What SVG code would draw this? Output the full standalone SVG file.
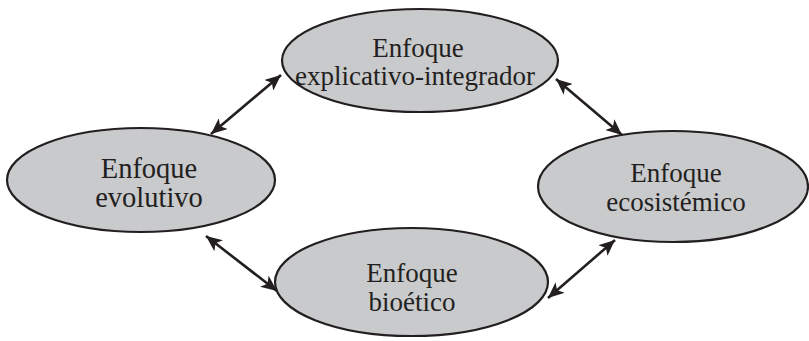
<svg xmlns="http://www.w3.org/2000/svg" width="809" height="341" viewBox="0 0 809 341">
<style>
.node ellipse{fill:#c9cacc;stroke:#231f20;stroke-width:2.2}
.node text{fill:#231f20;text-anchor:middle}
.conn line{stroke:#231f20;stroke-width:2.6;marker-start:url(#ah);marker-end:url(#ah)}
</style>
<defs>
<marker id="ah" markerUnits="userSpaceOnUse" markerWidth="17" markerHeight="14" refX="16" refY="7" orient="auto-start-reverse" viewBox="0 0 17 14">
<path d="M0,0 L16,7 L0,14 L4,7 z" fill="#231f20"/>
</marker>
</defs>
<rect width="809" height="341" fill="#ffffff"/>
<g class="conn">
<line x1="211" y1="134" x2="281" y2="75"/>
<line x1="556" y1="79" x2="622" y2="135"/>
<line x1="206" y1="236" x2="277" y2="291"/>
<line x1="548" y1="298" x2="615" y2="240"/>
</g>
<g font-family="Liberation Serif, Times New Roman, serif" font-size="27">
<g id="n-integrador" class="node">
<ellipse cx="420" cy="60.5" rx="138" ry="51.5"/>
<text x="418" y="56.5">Enfoque</text>
<text x="415" y="85">explicativo-integrador</text>
</g>
<g id="n-evolutivo" class="node">
<ellipse cx="141" cy="180" rx="134" ry="52"/>
<text x="149" y="178" font-size="28.5">Enfoque</text>
<text x="149" y="207" font-size="28.5">evolutivo</text>
</g>
<g id="n-ecosistemico" class="node">
<ellipse cx="673" cy="186.5" rx="135" ry="55.5"/>
<text x="676" y="182">Enfoque</text>
<text x="676" y="210.5">ecosistémico</text>
</g>
<g id="n-bioetico" class="node">
<ellipse cx="411.5" cy="282" rx="136.5" ry="54"/>
<text x="412" y="282">Enfoque</text>
<text x="412" y="310.5">bioético</text>
</g>
</g>
</svg>
